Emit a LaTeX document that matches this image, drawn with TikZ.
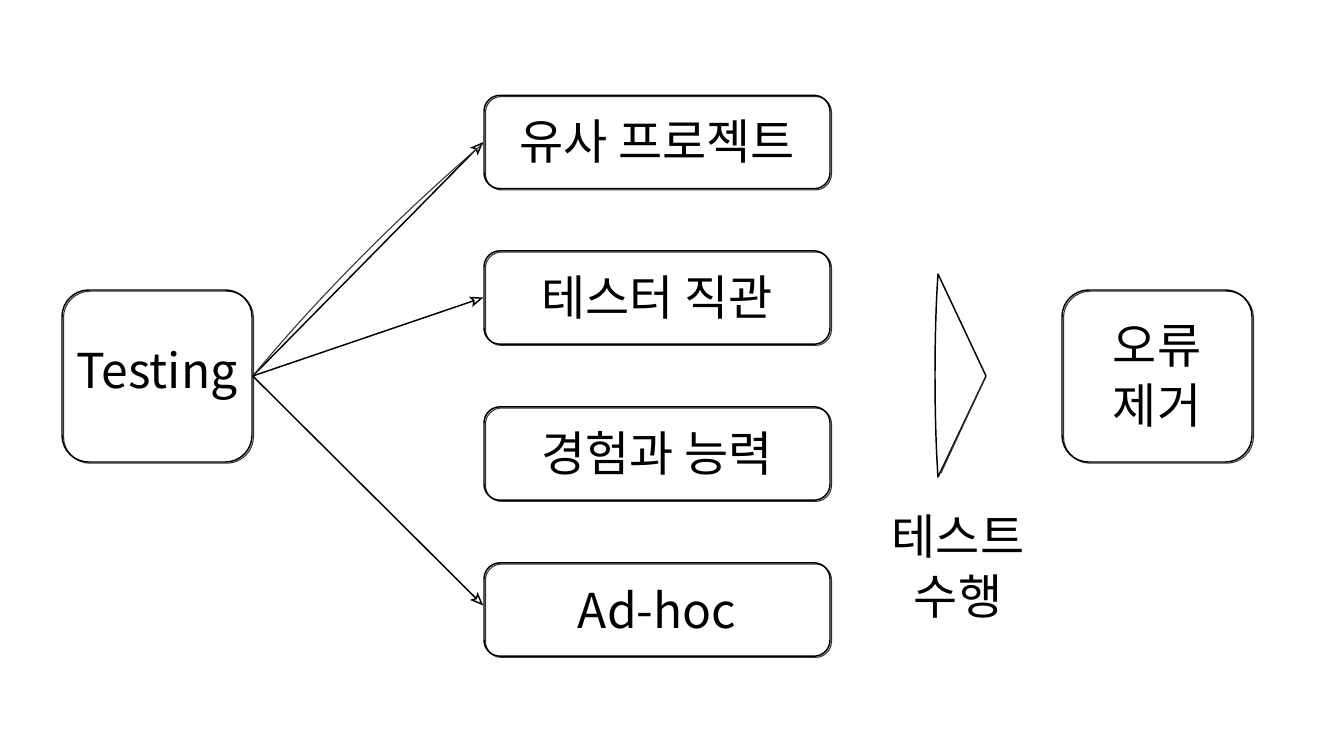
\documentclass[tikz,border=0pt]{standalone}
\usepackage{fontspec}
\setmainfont{Noto Sans CJK KR}
\usetikzlibrary{arrows.meta}
\begin{document}
\begin{tikzpicture}[x=0.75pt,y=-0.75pt,
  sk/.style={draw=black, line width=1.1pt, rounded corners=#1,
    preaction={draw=black!80, line width=0.8pt, transform canvas={shift={(1.1pt,-0.9pt)}}}},
  sk/.default=12pt,
  smallbox/.style={sk=12pt, minimum width=259.5pt, minimum height=70pt, inner sep=0pt},
  bigbox/.style={sk=20pt, minimum width=142.5pt, minimum height=129pt, inner sep=0pt, align=center},
  lbl/.style={font=\fontsize{36}{45}\selectfont},
  arr/.style={draw=black, line width=1.1pt, -{Stealth[open, length=10pt, width=8pt, inset=2pt]}}
]
\useasboundingbox (0,0) rectangle (1317,750);
\node[bigbox, lbl] (t) at (157,376) {Testing};
\node[smallbox, lbl] (b1) at (657,142) {유사 프로젝트};
\node[smallbox, lbl] (b2) at (657,297.5) {테스터 직관};
\node[smallbox, lbl] (b3) at (657,453.5) {경험과 능력};
\node[smallbox, lbl] (b4) at (657,609.5) {Ad-hoc};
\node[bigbox, lbl] (e) at (1157,376) {오류\\제거};
\node[lbl, align=center] (run) at (958,567) {테스트\\수행};
\draw[arr] (t.east) -- (b1.west);
\draw[draw=black!80, line width=0.8pt] (t.east) .. controls (320,295) and (400,215) .. ([yshift=-1pt]b1.west);
\draw[arr] (t.east) -- (b2.west);
\draw[arr] (t.east) -- ([yshift=3pt]b4.west);
\draw[draw=black, line width=1.1pt, line join=round] (938,274) -- (986,376) -- (938,477) .. controls (934,420) and (934,330) .. cycle;
\draw[draw=black!80, line width=0.8pt] (985,378) -- (941,473);
\end{tikzpicture}
\end{document}
